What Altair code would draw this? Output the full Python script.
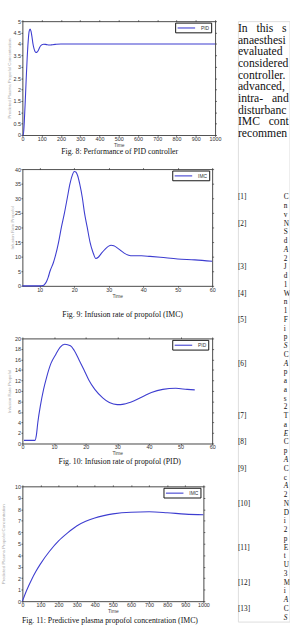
import altair as alt
import pandas as pd

BLUE = "#3d3dd0"
SANS = "Liberation Sans"
SERIF = "Liberation Serif"

# Fig. 8 - response of the PID-controlled loop
pid_t = [0, 5, 10, 15, 20, 25, 30, 35, 40, 45, 50, 55, 60, 65, 70, 75, 80, 85, 90,
         95, 100, 110, 120, 130, 140, 150, 170, 200, 300, 400, 500, 600, 700, 800, 900, 1000]
pid_v = [0, 0, 0.6, 1.5, 2.5, 3.4, 4.1, 4.55, 4.65, 4.55, 4.3, 4.0, 3.8, 3.68, 3.63, 3.63, 3.68, 3.76, 3.85,
         3.92, 3.96, 3.99, 3.98, 3.96, 3.95, 3.96, 3.98, 4.0, 4.0, 4.0, 4.0, 4.0, 4.0, 4.0, 4.0, 4.0]

# Fig. 9 - infusion rate of propofol, IMC
imc_rate_t = [5, 10, 11, 11.5, 12, 12.5, 13, 14, 14.5, 15.5, 16.3, 17.2, 18, 18.8, 19.5, 20, 20.5, 21,
              21.6, 22.4, 23, 23.8, 24.6, 25.4, 26.3, 27, 28, 29, 30, 30.7, 31.5, 32.5, 33.5, 34.5,
              35.8, 37, 39.5, 42, 45, 50, 55, 60]
imc_rate_v = [0, 0, 0.1, 0.6, 1.5, 3, 5, 8, 10, 15, 20, 25, 30, 35, 38, 39.2, 39, 37.8,
              35, 30, 25, 20, 15, 11.7, 9.4, 9.8, 11.3, 12.6, 13.6, 13.9, 13.7, 13, 12.1, 11.2,
              10.5, 10.3, 10.3, 10.1, 9.8, 9.2, 8.9, 8.4]

# Fig. 10 - infusion rate of propofol, PID
pid_rate_t = [0.5, 2, 4, 4.4, 4.9, 5.7, 6.7, 7.7, 9, 10.6, 11.9, 13.4, 15.2, 16.4, 18, 19.5, 21,
              22.9, 25.4, 27.5, 30, 32.1, 35.2, 38.3, 40.8, 44.4, 48.5, 52.1, 54.5]
pid_rate_v = [0.6, 0.6, 0.6, 1.5, 4.1, 7.2, 10.3, 12.7, 15.2, 17, 18.3, 18.9, 18.6, 17.7, 15.8, 14, 12.1,
              10.3, 8.7, 7.8, 7.4, 7.5, 8.1, 9, 9.7, 10.3, 10.5, 10.3, 10.2]

# Fig. 11 - predicted plasma propofol concentration, IMC
imc_conc_t = [0, 25, 50, 75, 100, 150, 200, 250, 300, 350, 400, 450, 500, 600, 700, 800, 900, 1000]
imc_conc_v = [0, 1.0, 1.85, 2.6, 3.25, 4.35, 5.25, 5.95, 6.55, 6.95, 7.25, 7.45, 7.6, 7.75, 7.78, 7.7, 7.58, 7.52]

ticks_1000 = list(range(0, 1001, 100))
ticks_60 = list(range(0, 61, 10))
ticks_60b = list(range(10, 61, 10))

# right-hand text column of the page
S3 = "\u00a0\u00a0\u00a0"
para_lines = ["In" + S3 + "this" + S3 + "s", "anaesthesi", "evaluated", "considered", "controller.",
              "advanced,", "intra-" + S3 + "and", "disturbanc", "IMC" + S3 + "cont", "recommen"]
ref_labels = ["[1]", "[2]", "[3]", "[4]", "[5]", "[6]", "[7]", "[8]", "[9]", "[10]", "[11]", "[12]", "[13]"]
ref_lines = [["C", "n", "v"], ["N", "S", "d", "A", "2"], ["J", "d", "1"], ["W", "n", "1"],
             ["F", "i", "p", "S", "C"], ["A", "p", "a", "a", "s", "2"], ["T", "a", "E"],
             ["C", "p", "A"], ["C", "c", "A", "2"], ["N", "D", "i", "2", "p"], ["E", "t", "U", "3"],
             ["M", "i", "A"], ["C", "S", "S"]]


def panel(t, v, name, xdom, xvals, ydom, yvals, yfmt, ytitle, caption, w, h, extent,
          cap_dy, cap_dx, top_gap):
    df = pd.DataFrame({"t": t, "v": v, "series": name})
    xs = alt.Scale(domain=xdom, nice=False, zero=False)
    ys = alt.Scale(domain=ydom, nice=False, zero=False)
    common = dict(domainColor="#111", domainWidth=0.7, tickColor="#111", tickWidth=0.6,
                  tickSize=1.5, grid=False)
    lab = dict(labelFontSize=5.5, labelFont=SANS, labelColor="#333", labelFlush=False,
               labelOverlap=False)
    xb = alt.Axis(orient="bottom", values=xvals, format="d", labelPadding=0, title="Time",
                  titleFontSize=5, titleFont=SANS, titleColor="#444", titleFontWeight="normal",
                  titlePadding=0.5, **lab, **common)
    yl = alt.Axis(orient="left", values=yvals, format=yfmt, labelPadding=0.5, title=ytitle,
                  titleFontSize=4.5, titleFont=SANS, titleColor="#aaa", titleFontWeight="normal",
                  titlePadding=1, minExtent=extent, maxExtent=extent, **lab, **common)
    # upper frame edge; its blank title keeps clear space above the panel
    xt = alt.Axis(orient="top", values=xvals, labels=False, title=" ", titleFontSize=1,
                  titlePadding=top_gap, **common)
    yr = alt.Axis(orient="right", values=yvals, labels=False, title=None, **common)
    legend = alt.Legend(orient="none", legendX=w - 41, legendY=1.5, title=None, padding=1.5,
                        strokeColor="#111", fillColor="white", symbolType="M-1,0H5",
                        symbolSize=36, symbolStrokeWidth=1.1, labelFontSize=5, labelFont=SANS,
                        labelColor="#333", labelOffset=17)
    line = alt.Chart(df).mark_line(strokeWidth=1.1, interpolate="monotone").encode(
        x=alt.X("t:Q", scale=xs, axis=xb),
        y=alt.Y("v:Q", scale=ys, axis=yl),
        color=alt.Color("series:N", scale=alt.Scale(range=[BLUE]), legend=legend),
    )
    box = alt.Chart(df).mark_line(opacity=0).encode(
        x=alt.X("t:Q", scale=xs, axis=xt),
        y=alt.Y("v:Q", scale=ys, axis=yr),
    )
    title = alt.TitleParams(text=caption, orient="bottom", anchor="middle", frame="group",
                            font=SERIF, fontSize=8, fontWeight="normal", color="#111",
                            offset=0.5, dy=cap_dy, dx=cap_dx)
    return alt.layer(line, box).resolve_axis(x="independent", y="independent").properties(
        width=w, height=h, title=title)


p1 = panel(pid_t, pid_v, "PID", [0, 1000], ticks_1000, [0, 5], [i / 2 for i in range(11)], ".1~f",
           "Predicted Plasma Propofol Concentration", "Fig. 8: Performance of PID controller",
           198, 117, 10.5, 0, 1, 0.5)
p2 = panel(imc_rate_t, imc_rate_v, "IMC", [5, 60], ticks_60b, [0, 40], list(range(0, 41, 5)), "d",
           "Infusion Rate Propofol", "Fig. 9: Infusion rate of propofol (IMC)",
           195, 120, 7.5, 13, 5.5, 0.5)
p3 = panel(pid_rate_t, pid_rate_v, "PID", [0, 60], ticks_60, [0, 20], list(range(0, 21, 2)), "d",
           "Infusion Rate Propofol", "Fig. 10: Infusion rate of propofol (PID)",
           195, 108, 10.5, 2, 2.5, 6.5)
p4 = panel(imc_conc_t, imc_conc_v, "IMC", [0, 1000], ticks_1000, [0, 10], list(range(0, 11)), "d",
           "Predicted Plasma Propofol Concentration",
           "Fig. 11: Predictive plasma propofol concentration (IMC)",
           186, 118, 16.5, 3, -3, 7.5)

figures = alt.vconcat(p1, p2, p3, p4, spacing=9).resolve_scale(color="independent")

# text column
para_df = pd.DataFrame({"row": list(range(len(para_lines))), "col": 0, "txt": para_lines})
rows, cols, txts, italic = [], [], [], []
lab_rows, lab_txt = [], []
r = 0
italic_set = {(1, 3), (4, 3), (5, 0), (6, 2), (7, 2), (8, 2), (11, 2), (12, 1), (12, 2)}
for k, lines in enumerate(ref_lines):
    lab_rows.append(r)
    lab_txt.append(ref_labels[k])
    for j, s in enumerate(lines):
        rows.append(r)
        cols.append(1)
        txts.append(s)
        italic.append((k, j) in italic_set)
        r += 1
ref_df = pd.DataFrame({"row": rows, "col": cols, "txt": txts, "it": italic})
lab_df = pd.DataFrame({"row": lab_rows, "col": 0, "txt": lab_txt})

xcol = alt.X("col:Q", scale=alt.Scale(domain=[0, 1], range=[0, 47]), axis=None)
yref = alt.Y("row:Q", scale=alt.Scale(domain=[0, 49], range=[181, 181 + 49 * 9]), axis=None)
ypara = alt.Y("row:Q", scale=alt.Scale(domain=[0, 9], range=[7, 115]), axis=None)

para = alt.Chart(para_df).mark_text(align="left", baseline="middle", font=SERIF, fontSize=12,
                                    color="#111", clip=True).encode(x=xcol, y=ypara, text="txt:N")
ref_lab = alt.Chart(lab_df).mark_text(align="left", baseline="middle", font=SERIF, fontSize=7.5,
                                      color="#111", clip=True).encode(x=xcol, y=yref, text="txt:N")
ref_up = alt.Chart(ref_df).transform_filter("!datum.it").mark_text(
    align="left", baseline="middle", font=SERIF, fontSize=7.5, color="#111", clip=True
).encode(x=xcol, y=yref, text="txt:N")
ref_it = alt.Chart(ref_df).transform_filter("datum.it").mark_text(
    align="left", baseline="middle", font=SERIF, fontSize=7.5, fontStyle="italic", color="#111",
    clip=True).encode(x=xcol, y=yref, text="txt:N")

text_col = alt.layer(para, ref_lab, ref_up, ref_it).resolve_scale(y="independent").properties(
    width=53, height=617)

chart = alt.hconcat(figures, text_col, spacing=15.5).properties(
    padding={"left": 0, "top": 9, "right": 0, "bottom": 0}
).configure_view(stroke="transparent").configure(background="white")

chart.save("out.html", embed_options={"renderer": "svg", "actions": False})
